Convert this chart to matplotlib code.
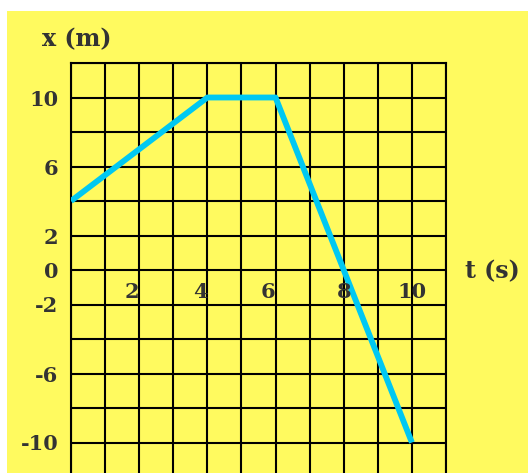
#!/usr/bin/env python3
"""
Position-time graph: x (m) against t (s) on a yellow grid.
"""

import numpy as np
import matplotlib.pyplot as plt
from matplotlib.patches import Rectangle

# data
t_points = [0, 4, 6, 8, 10]
x_points = [4, 10, 10, 0, -10]

y_tick_values = [10, 6, 2, 0, -2, -6, -10]
y_tick_labels = ['10', '6', '2', '0', '-2', '-6', '-10']
t_tick_values = [2, 4, 6, 8, 10]
t_tick_labels = ['2', '4', '6', '8', '10']
t_tick_align = ['right', 'right', 'right', 'center', 'center']

yellow = '#fffa5f'
cyan = '#00c8f2'
ink = '#333333'
font = 'DejaVu Serif'

W, H = 528, 473
fig = plt.figure(figsize=(W / 100, H / 100), dpi=100)
fig.patch.set_facecolor('white')

# yellow card behind everything
fig.patches.append(Rectangle((7 / W, 0), 1 - 7 / W, 1 - 11 / H,
                             transform=fig.transFigure, facecolor=yellow,
                             edgecolor='none', zorder=-10))

ax = fig.add_axes([71 / W, -4 / H, 375 / W, 414 / H])
ax.set_facecolor(yellow)
ax.set_xlim(0, 11)
ax.set_ylim(-12, 12)

# grid: one column per second, one row per 2 m
ax.set_xticks(np.arange(0, 12, 1), minor=True)
ax.set_yticks(np.arange(-12, 13, 2), minor=True)
ax.set_xticks([])
ax.set_yticks(y_tick_values)
ax.set_yticklabels(y_tick_labels, fontsize=15, fontweight='bold',
                   family=font, color=ink)
ax.grid(which='both', color='black', linewidth=1.5)
ax.tick_params(which='both', length=0)
ax.tick_params(axis='y', pad=9)
for s in ax.spines.values():
    s.set_color('black')
    s.set_linewidth(1.5)
ax.set_axisbelow(True)

# the motion
ax.plot(t_points, x_points, color=cyan, linewidth=4.2,
        solid_capstyle='butt', zorder=3)

# time labels sit inside the grid, below the zero line
for tv, lab, ha in zip(t_tick_values, t_tick_labels, t_tick_align):
    ax.text(tv, -1.3, lab, ha=ha, va='center', fontsize=15,
            fontweight='bold', family=font, color=ink, zorder=4)

fig.text(77 / W, 1 - 39 / H, 'x (m)', ha='center', va='center',
         fontsize=17, fontweight='bold', family=font, color=ink)
fig.text(492 / W, 1 - 271 / H, 't (s)', ha='center', va='center',
         fontsize=17, fontweight='bold', family=font, color=ink)

fig.savefig('out.png', dpi=100)
